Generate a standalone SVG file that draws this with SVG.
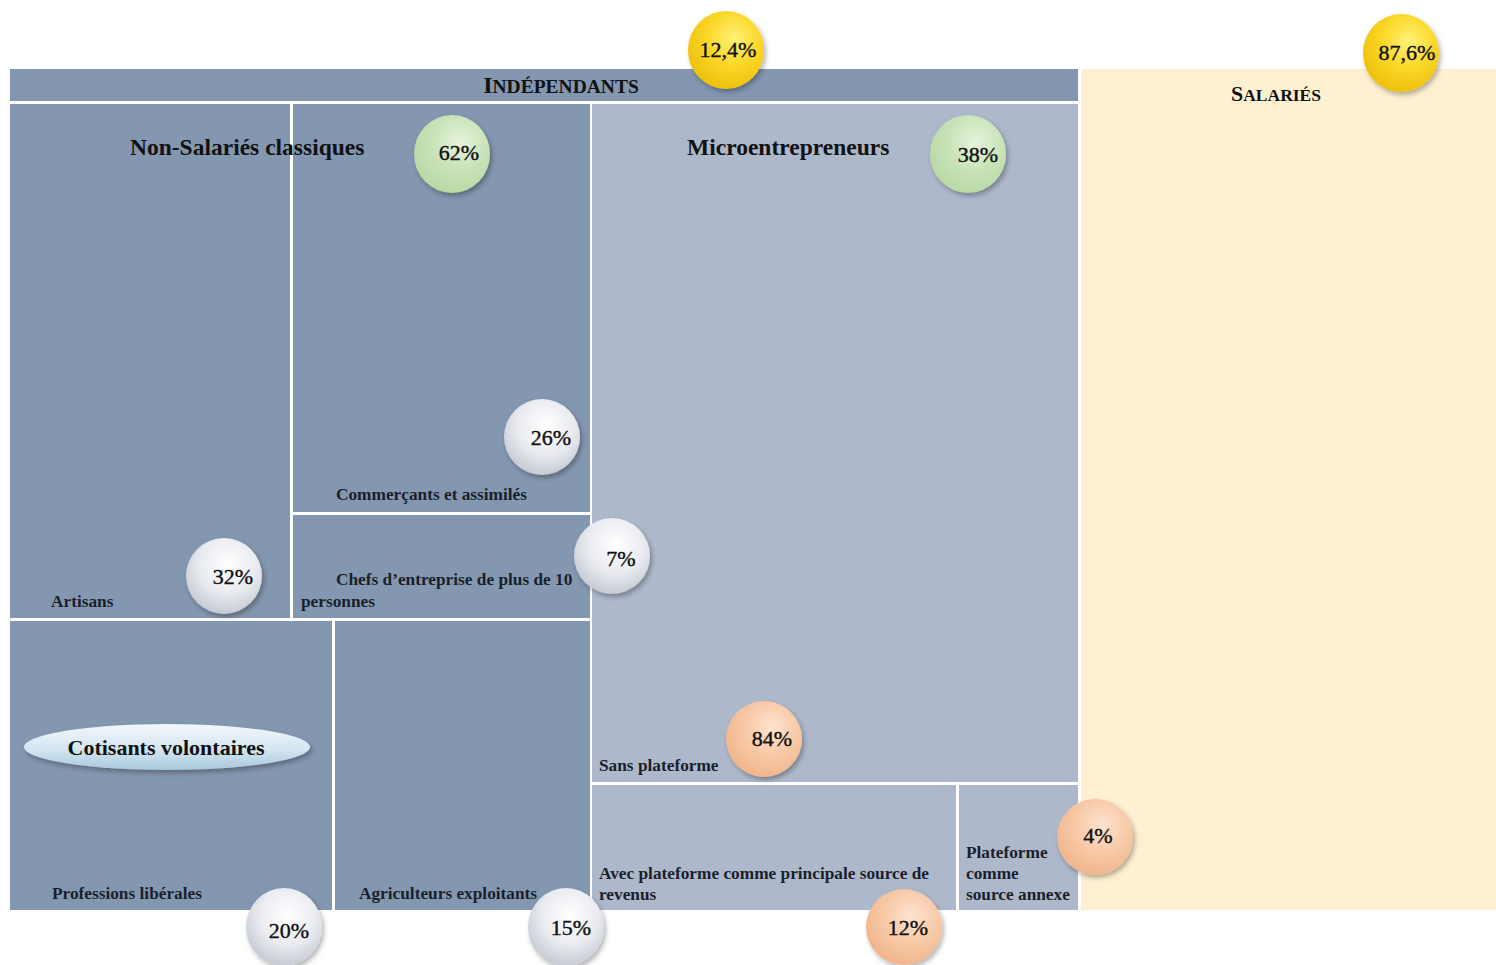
<svg xmlns="http://www.w3.org/2000/svg" width="1496" height="965" viewBox="0 0 1496 965">
<defs>
<style>
.dark{fill:#8497b0}
.light{fill:#adb8cb}
.sal{fill:#fff0d1}
.t{font-family:"Liberation Serif","DejaVu Serif",serif;fill:#111}
.lbl{font-size:17.3px;font-weight:bold;fill:#1a1f2b}
.title{font-size:23.5px;font-weight:bold}
.pct text{font-family:"Liberation Serif","DejaVu Serif",serif;font-size:22px;fill:#111;stroke:#111;stroke-width:0.4}
</style>
<radialGradient id="gY" cx="0.6" cy="0.35" r="0.75">
<stop offset="0" stop-color="#fff27a"/><stop offset="0.45" stop-color="#fbd829"/><stop offset="1" stop-color="#e9bb05"/>
</radialGradient>
<radialGradient id="gG" cx="0.6" cy="0.35" r="0.75">
<stop offset="0" stop-color="#e6f3dc"/><stop offset="0.5" stop-color="#c8e2b7"/><stop offset="1" stop-color="#b5d6a0"/>
</radialGradient>
<radialGradient id="gS" cx="0.55" cy="0.35" r="0.75">
<stop offset="0" stop-color="#ffffff"/><stop offset="0.5" stop-color="#e9ebf0"/><stop offset="1" stop-color="#b9bec8"/>
</radialGradient>
<radialGradient id="gP" cx="0.6" cy="0.35" r="0.75">
<stop offset="0" stop-color="#fde3cf"/><stop offset="0.5" stop-color="#f7c8a5"/><stop offset="1" stop-color="#eeb085"/>
</radialGradient>
<linearGradient id="gC" x1="0" y1="0" x2="0" y2="1">
<stop offset="0" stop-color="#f2f7fb"/><stop offset="0.55" stop-color="#d4e6f1"/><stop offset="1" stop-color="#a9c7dc"/>
</linearGradient>
<filter id="sh" x="-30%" y="-30%" width="160%" height="160%">
<feDropShadow dx="2" dy="3" stdDeviation="2.5" flood-color="#000" flood-opacity="0.3"/>
</filter>
</defs>
<rect x="0" y="0" width="1496" height="965" fill="#ffffff"/>

<g id="independants">
<rect class="dark" x="10" y="69" width="1068" height="32"/>
<text class="t" x="561" y="93" text-anchor="middle" font-weight="bold"><tspan font-size="24">I</tspan><tspan font-size="19.5">NDÉPENDANTS</tspan></text>
</g>
<g id="salaries">
<rect class="sal" x="1081" y="69" width="415" height="841"/>
<text class="t" x="1276" y="101" text-anchor="middle" font-weight="bold"><tspan font-size="22">S</tspan><tspan font-size="17.5">ALARIÉS</tspan></text>
</g>

<g id="artisans">
<rect class="dark" x="10" y="104" width="280" height="514"/>
<text class="t lbl" x="51" y="607">Artisans</text>
</g>
<g id="commercants">
<rect class="dark" x="293" y="104" width="297" height="408"/>
<text class="t lbl" x="336" y="500">Commerçants et assimilés</text>
</g>
<g id="chefs">
<rect class="dark" x="293" y="515" width="297" height="103"/>
<text class="t lbl"><tspan x="336" y="585">Chefs d’entreprise de plus de 10</tspan><tspan x="301" y="607">personnes</tspan></text>
</g>
<g id="liberales">
<rect class="dark" x="10" y="621" width="322" height="289"/>
<text class="t lbl" x="52" y="899">Professions libérales</text>
</g>
<g id="agriculteurs">
<rect class="dark" x="335" y="621" width="255" height="289"/>
<text class="t lbl" x="359" y="899">Agriculteurs exploitants</text>
</g>
<g id="non-salaries-title">
<text class="t title" x="130" y="155">Non-Salariés classiques</text>
</g>

<g id="sans-plateforme">
<rect class="light" x="592" y="104" width="486" height="678"/>
<text class="t title" x="687" y="155" font-size="23">Microentrepreneurs</text>
<text class="t lbl" x="599" y="771">Sans plateforme</text>
</g>
<g id="avec-plateforme">
<rect class="light" x="592" y="785" width="364" height="125"/>
<text class="t lbl"><tspan x="599" y="879">Avec plateforme comme principale source de</tspan><tspan x="599" y="900">revenus</tspan></text>
</g>
<g id="plateforme-annexe">
<rect class="light" x="959" y="785" width="119" height="125"/>
<text class="t lbl"><tspan x="966" y="858">Plateforme</tspan><tspan x="966" y="879">comme</tspan><tspan x="966" y="900">source annexe</tspan></text>
</g>

<g id="cotisants">
<ellipse cx="167" cy="747" rx="143" ry="23" fill="url(#gC)" filter="url(#sh)"/>
<text class="t" x="166" y="755" text-anchor="middle" font-size="22" font-weight="bold">Cotisants volontaires</text>
</g>

<g id="badges" class="pct">
<g id="b124"><ellipse cx="726" cy="50" rx="38" ry="39" fill="url(#gY)" filter="url(#sh)"/><text x="728" y="57" text-anchor="middle">12,4%</text></g>
<g id="b876"><ellipse cx="1401" cy="53" rx="38" ry="39" fill="url(#gY)" filter="url(#sh)"/><text x="1407" y="60" text-anchor="middle">87,6%</text></g>
<g id="b62"><ellipse cx="452" cy="154" rx="38" ry="39" fill="url(#gG)" filter="url(#sh)"/><text x="459" y="160" text-anchor="middle">62%</text></g>
<g id="b38"><ellipse cx="968" cy="154" rx="38" ry="39" fill="url(#gG)" filter="url(#sh)"/><text x="978" y="162" text-anchor="middle">38%</text></g>
<g id="b26"><ellipse cx="542" cy="437" rx="38" ry="38" fill="url(#gS)" filter="url(#sh)"/><text x="551" y="445" text-anchor="middle">26%</text></g>
<g id="b32"><ellipse cx="224" cy="576" rx="38" ry="38" fill="url(#gS)" filter="url(#sh)"/><text x="233" y="584" text-anchor="middle">32%</text></g>
<g id="b7"><ellipse cx="612" cy="556" rx="38" ry="38" fill="url(#gS)" filter="url(#sh)"/><text x="621" y="566" text-anchor="middle">7%</text></g>
<g id="b84"><ellipse cx="764" cy="739" rx="38" ry="38" fill="url(#gP)" filter="url(#sh)"/><text x="772" y="746" text-anchor="middle">84%</text></g>
<g id="b4"><ellipse cx="1095" cy="837" rx="38" ry="38" fill="url(#gP)" filter="url(#sh)"/><text x="1098" y="843" text-anchor="middle">4%</text></g>
<g id="b12"><ellipse cx="904" cy="927" rx="38" ry="38" fill="url(#gP)" filter="url(#sh)"/><text x="908" y="935" text-anchor="middle">12%</text></g>
<g id="b20"><ellipse cx="284" cy="927" rx="38" ry="39" fill="url(#gS)" filter="url(#sh)"/><text x="289" y="938" text-anchor="middle">20%</text></g>
<g id="b15"><ellipse cx="566" cy="927" rx="38" ry="39" fill="url(#gS)" filter="url(#sh)"/><text x="571" y="935" text-anchor="middle">15%</text></g>
</g>

<g id="connectors"/>
</svg>
